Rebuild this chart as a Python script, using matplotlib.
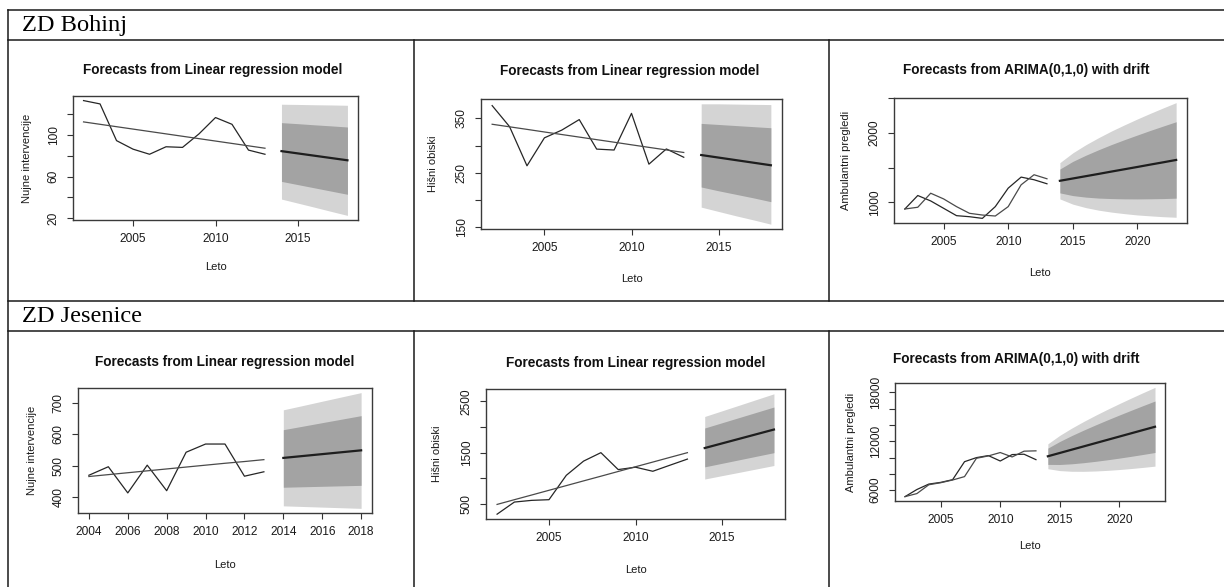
import matplotlib
matplotlib.use("Agg")
import matplotlib.pyplot as plt
from matplotlib.lines import Line2D

W, H = 1224, 587
plt.rcParams['font.family'] = 'Liberation Sans'

LIGHT = '#d4d4d4'   # 95 % interval
DARK = '#a3a3a3'    # 80 % interval
INK = '#262626'

# ---- ZD Bohinj: nujne intervencije (linear regression) ----
bn_years = list(range(2002, 2014))
bn_actual = [133, 129.8, 94.5, 86.3, 81.4, 88.6, 88, 101, 116.7, 110.2, 85.4, 81.4]
bn_fitted = [112.5, 110.2, 107.9, 105.6, 103.3, 101.0, 98.7, 96.4, 94.1, 91.8, 89.5, 87.2]
bn_fyears = list(range(2014, 2019))
bn_mean = [84.4, 82.2, 80.0, 77.8, 75.6]
bn_lo80 = [55.3, 52.2, 49.1, 46.0, 42.9]
bn_hi80 = [111.8, 110.8, 109.7, 108.7, 107.6]
bn_lo95 = [38.3, 34.4, 30.5, 26.5, 22.6]
bn_hi95 = [129.5, 129.3, 129.0, 128.8, 128.5]

# ---- ZD Bohinj: hisni obiski (linear regression) ----
bh_years = list(range(2002, 2014))
bh_actual = [373.7, 335, 263, 314.4, 328.7, 348, 293.7, 292, 359.4, 266, 294, 278.7]
bh_fitted = [339.4, 334.7, 330.0, 325.2, 320.5, 315.8, 311.1, 306.4, 301.6, 296.9, 292.2, 287.5]
bh_fyears = list(range(2014, 2019))
bh_mean = [282.8, 278.1, 273.4, 268.7, 264.0]
bh_lo80 = [224, 217, 210.5, 204, 197]
bh_hi80 = [341, 339, 337, 335, 333]
bh_lo95 = [187, 179, 171, 163.5, 155.6]
bh_hi95 = [377, 377, 376.5, 376, 375.6]

# ---- ZD Bohinj: ambulantni pregledi (ARIMA) ----
ba_years = list(range(2002, 2014))
ba_actual = [903, 1097, 1019, 913, 807, 792, 768, 937, 1203, 1362, 1324, 1266]
ba_fitted = [903, 928, 1130, 1048, 937, 841, 816, 802, 937, 1251, 1396, 1338]
ba_fyears = list(range(2014, 2024))
ba_mean = [1309, 1342, 1375, 1408, 1442, 1475, 1508, 1542, 1575, 1609]
ba_lo80 = [1135, 1096, 1074, 1060, 1053, 1049, 1048, 1050, 1053, 1059]
ba_hi80 = [1478, 1588, 1676, 1756, 1831, 1901, 1968, 2034, 2097, 2159]
ba_lo95 = [1048, 973, 923, 886, 858, 836, 817, 804, 792, 784]
ba_hi95 = [1570, 1711, 1827, 1930, 2026, 2114, 2199, 2280, 2358, 2434]

# ---- ZD Jesenice: nujne intervencije (linear regression) ----
jn_years = list(range(2004, 2014))
jn_actual = [470, 497, 414, 502, 421, 543, 569, 569, 467, 481]
jn_fitted = [466, 472, 478, 484, 490, 496, 502, 508, 513.5, 519.5]
jn_fyears = list(range(2014, 2019))
jn_mean = [525, 531, 537, 543, 549]
jn_lo80 = [432, 433.5, 435, 436.5, 438]
jn_hi80 = [614.5, 625.6, 636.8, 647.9, 659]
jn_lo95 = [373, 371, 369, 367, 365]
jn_hi95 = [677.5, 691, 704.8, 718.4, 732]

# ---- ZD Jesenice: hisni obiski (linear regression) ----
jh_years = list(range(2002, 2014))
jh_actual = [303, 539, 572, 585, 1059, 1336, 1500, 1171, 1217, 1138, 1257, 1375]
jh_fitted = [493, 585, 676, 768, 859, 951, 1042, 1134, 1226, 1317, 1409, 1500]
jh_fyears = list(range(2014, 2019))
jh_mean = [1590, 1680, 1770, 1860, 1950]
jh_lo80 = [1224, 1293, 1362, 1431, 1500]
jh_hi80 = [1980, 2082, 2184, 2286, 2388]
jh_lo95 = [987, 1053, 1118, 1184, 1250]
jh_hi95 = [2204, 2314, 2424, 2535, 2645]

# ---- ZD Jesenice: ambulantni pregledi (ARIMA) ----
ja_years = list(range(2002, 2014))
ja_actual = [5208, 6083, 6750, 6958, 7292, 9500, 10000, 10250, 9583, 10375, 10417, 9750]
ja_fitted = [5208, 5583, 6667, 6917, 7250, 7667, 9917, 10208, 10625, 10083, 10792, 10833]
ja_fyears = list(range(2014, 2024))
ja_mean = [10167, 10570, 10973, 11376, 11779, 12182, 12585, 12988, 13391, 13792]
ja_lo80 = [9167, 9156, 9241, 9376, 9543, 9733, 9939, 10160, 10391, 10630]
ja_hi80 = [11167, 11984, 12705, 13376, 14015, 14631, 15231, 15816, 16391, 16954]
ja_lo95 = [8637, 8406, 8323, 8316, 8358, 8434, 8537, 8661, 8801, 8954]
ja_hi95 = [11697, 12734, 13623, 14436, 15200, 15930, 16633, 17315, 17981, 18630]

T_LR = "Forecasts from Linear regression model"
T_AR = "Forecasts from ARIMA(0,1,0) with drift"


def fx(x):
    return x / W


def fy(y):
    return 1 - y / H


def panel(fig, px, py, data, title, ylabel, yticks, ylabs, xticks,
          title_pos, ylab_x, xlab_y):
    x0, x1 = px
    y0, y1 = py
    ax = fig.add_axes([fx(x0), fy(y1), fx(x1 - x0), (y1 - y0) / H])
    years, actual, fitted, fyears, mean, lo80, hi80, lo95, hi95 = data
    ax.fill_between(fyears, lo95, hi95, color=LIGHT, lw=0)
    ax.fill_between(fyears, lo80, hi80, color=DARK, lw=0)
    ax.plot(years, actual, color=INK, lw=0.9)
    ax.plot(years, fitted, color='#4a4a4a', lw=0.9)
    ax.plot(fyears, mean, color='#1e1e1e', lw=1.6)
    ax.margins(x=0.04, y=0.04)
    ax.set_xticks(xticks)
    ax.set_xticklabels([str(t) for t in xticks])
    ax.set_yticks(yticks)
    ax.set_yticklabels(ylabs, rotation=90, va='center')
    ax.tick_params(length=4.5, width=0.8, color='#333333', labelsize=8.6,
                   labelcolor='#1a1a1a')
    ax.tick_params(axis='x', pad=5)
    ax.tick_params(axis='y', pad=5)
    for s in ax.spines.values():
        s.set_color('#3a3a3a')
        s.set_linewidth(1.0)
    fig.text(fx(title_pos[0]), fy(title_pos[1]), title, ha='center',
             va='center', fontsize=9.8, fontweight='bold', color='#111111')
    fig.text(fx(ylab_x), fy((y0 + y1) / 2), ylabel, rotation=90,
             ha='center', va='center', fontsize=8, color='#1a1a1a')
    fig.text(fx((x0 + x1) / 2), fy(xlab_y), "Leto", ha='center',
             va='center', fontsize=8, color='#1a1a1a')
    return ax


fig = plt.figure(figsize=(W / 100, H / 100), dpi=100)

# table grid
lk = dict(color='#1a1a1a', lw=1.1, transform=fig.transFigure)
for yy in (10, 40, 301, 331):
    fig.add_artist(Line2D([fx(8), 1], [fy(yy), fy(yy)], **lk))
fig.add_artist(Line2D([fx(8), fx(8)], [fy(10), 0], **lk))
for xx in (414, 829):
    fig.add_artist(Line2D([fx(xx), fx(xx)], [fy(40), fy(301)], **lk))
    fig.add_artist(Line2D([fx(xx), fx(xx)], [fy(331), 0], **lk))

fig.text(fx(22), fy(25), "ZD Bohinj", family='Liberation Serif',
         fontsize=17.6, ha='left', va='center', color='black')
fig.text(fx(22), fy(316), "ZD Jesenice", family='Liberation Serif',
         fontsize=17.6, ha='left', va='center', color='black')

panel(fig, (73, 358), (96, 220),
      (bn_years, bn_actual, bn_fitted, bn_fyears, bn_mean, bn_lo80, bn_hi80, bn_lo95, bn_hi95),
      T_LR, "Nujne intervencije",
      [20, 40, 60, 80, 100, 120], ['20', '', '60', '', '100', ''],
      [2005, 2010, 2015], (213, 70), 27, 267)

panel(fig, (481, 782), (99, 229),
      (bh_years, bh_actual, bh_fitted, bh_fyears, bh_mean, bh_lo80, bh_hi80, bh_lo95, bh_hi95),
      T_LR, "Hišni obiski",
      [150, 200, 250, 300, 350], ['150', '', '250', '', '350'],
      [2005, 2010, 2015], (630, 71), 433, 279)

panel(fig, (894, 1187), (98, 223),
      (ba_years, ba_actual, ba_fitted, ba_fyears, ba_mean, ba_lo80, ba_hi80, ba_lo95, ba_hi95),
      T_AR, "Ambulantni pregledi",
      [1000, 1500, 2000, 2500], ['1000', '', '2000', ''],
      [2005, 2010, 2015, 2020], (1026, 70), 846, 273)

panel(fig, (78, 372), (388, 513),
      (jn_years, jn_actual, jn_fitted, jn_fyears, jn_mean, jn_lo80, jn_hi80, jn_lo95, jn_hi95),
      T_LR, "Nujne intervencije",
      [400, 500, 600, 700], ['400', '500', '600', '700'],
      list(range(2004, 2019, 2)), (225, 362), 32, 565)

panel(fig, (486, 785), (389, 519),
      (jh_years, jh_actual, jh_fitted, jh_fyears, jh_mean, jh_lo80, jh_hi80, jh_lo95, jh_hi95),
      T_LR, "Hišni obiski",
      [500, 1000, 1500, 2000, 2500], ['500', '', '1500', '', '2500'],
      [2005, 2010, 2015], (636, 363), 437, 570)

panel(fig, (895, 1165), (383, 501),
      (ja_years, ja_actual, ja_fitted, ja_fyears, ja_mean, ja_lo80, ja_hi80, ja_lo95, ja_hi95),
      T_AR, "Ambulantni pregledi",
      [6000, 8000, 10000, 12000, 14000, 16000, 18000],
      ['6000', '', '', '12000', '', '', '18000'],
      [2005, 2010, 2015, 2020], (1016, 359), 851, 546)

fig.savefig("out.png", dpi=100)
